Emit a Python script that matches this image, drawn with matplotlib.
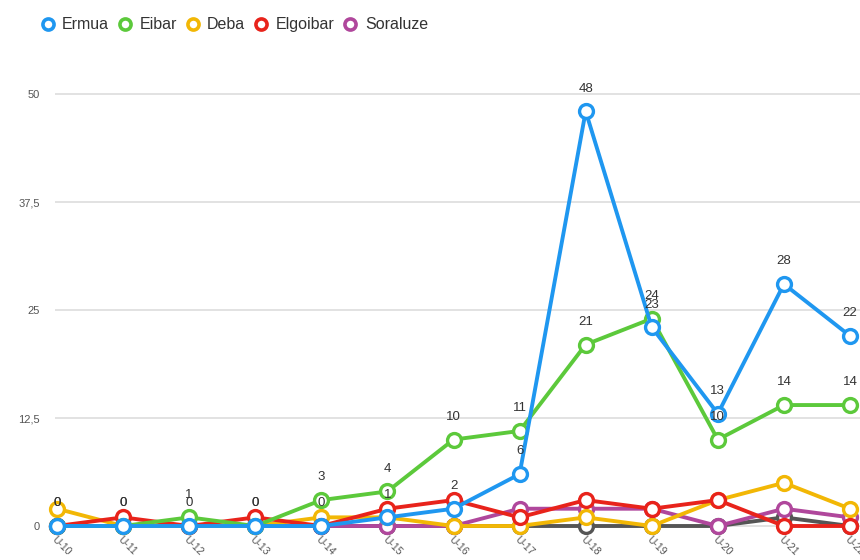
import matplotlib
matplotlib.use("Agg")
import matplotlib.pyplot as plt
from matplotlib.lines import Line2D

plt.rcParams["font.family"] = ["Liberation Sans", "DejaVu Sans"]

categories = ["U-10", "U-11", "U-12", "U-13", "U-14", "U-15", "U-16",
              "U-17", "U-18", "U-19", "U-20", "U-21", "U-22"]
ermua     = [0, 0, 0, 0, 0, 1, 2, 6, 48, 23, 13, 28, 22]
eibar     = [0, 0, 1, 0, 3, 4, 10, 11, 21, 24, 10, 14, 14]
deba      = [2, 0, 0, 0, 1, 1, 0, 0, 1, 0, 3, 5, 2]
elgoibar  = [0, 1, 0, 1, 0, 2, 3, 1, 3, 2, 3, 0, 0]
soraluze  = [0, 0, 0, 0, 0, 0, 0, 2, 2, 2, 0, 2, 1]
other     = [0, 0, 0, 0, 0, 0, 0, 0, 0, 0, 0, 1, 0]
yticks = [0, 12.5, 25, 37.5, 50]
ytick_labels = ["0", "12,5", "25", "37,5", "50"]

series = [
    ("", other, "#555555", 1),
    ("Soraluze", soraluze, "#b0479c", 2),
    ("Deba", deba, "#f2b705", 3),
    ("Elgoibar", elgoibar, "#e8231b", 4),
    ("Eibar", eibar, "#5cc93b", 5),
    ("Ermua", ermua, "#1f97f0", 6),
]
legend_order = ["Ermua", "Eibar", "Deba", "Elgoibar", "Soraluze"]

fig = plt.figure(figsize=(8.6, 5.6), dpi=100)
ax = fig.add_axes([55/860, 30/560, 805/860, 470/560])
x = list(range(len(categories)))
handles = {}
for name, vals, color, z in series:
    ax.plot(x, vals, color=color, lw=2.8, marker="o", ms=10,
            mfc="white", mec=color, mew=2.4, zorder=z + 2, clip_on=False)
    if name:
        handles[name] = Line2D([], [], ls="none", marker="o", ms=8, mfc="white",
                               mec=color, mew=2.6)

for vals in (eibar, ermua):
    for xi, v in zip(x, vals):
        ax.annotate(str(v), (xi, v), xytext=(0, 12), textcoords="offset points",
                    ha="center", va="bottom", fontsize=9.5, color="#333333", zorder=20)

ax.set_xlim(-0.03, 12 + 10/66.25)
ax.set_ylim(-4/8.64, 50 + 34/8.64)
ax.set_yticks(yticks)
ax.set_yticklabels(ytick_labels, fontsize=8, color="#555555")
ax.set_xticks(x)
ax.set_xticklabels(categories, fontsize=7.5, color="#555555", rotation=-45,
                   ha="left", va="top", rotation_mode="anchor")
ax.tick_params(length=0, pad=11)
ax.tick_params(axis="x", pad=3)
ax.grid(axis="y", color="#dddddd", lw=1.2)
ax.set_axisbelow(True)
for s in ax.spines.values():
    s.set_visible(False)

fig.legend([handles[n] for n in legend_order], legend_order, loc="upper left",
           bbox_to_anchor=(27/860, 1 - 3/560), ncol=5, frameon=False,
           fontsize=11.5, labelcolor="#333333", handletextpad=0.5,
           columnspacing=0.6, handlelength=0.8)

fig.savefig("out.png", dpi=100)
